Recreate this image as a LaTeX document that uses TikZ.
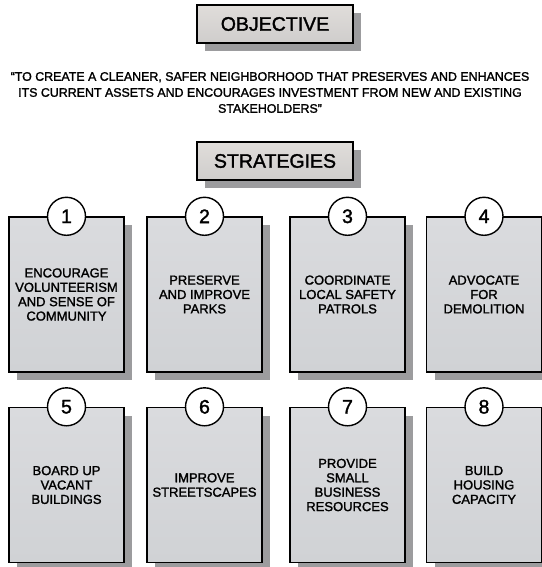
\documentclass[tikz,border=0pt]{standalone}
\usepackage{fontspec}
\setmainfont{Liberation Sans}[FakeBold=1.6]
\usetikzlibrary{shadows}

\definecolor{shadowgray}{HTML}{9C9C9E}
\definecolor{cardtop}{HTML}{DADBDE}
\definecolor{cardbot}{HTML}{D0D2D5}
\definecolor{headtop}{HTML}{E0DDDA}
\definecolor{headbot}{HTML}{CFCDCC}

\tikzset{
  headbox/.style={draw=black, line width=1.4pt, top color=headtop, bottom color=headbot,
    minimum width=156pt, minimum height=38pt, inner sep=0pt,
    font=\fontsize{19.5}{22}\selectfont,
    drop shadow={shadow xshift=8pt, shadow yshift=-8pt, fill=shadowgray, opacity=1}},
  strategybox/.style={draw=black, line width=1.4pt, top color=cardtop, bottom color=cardbot,
    minimum width=115pt, minimum height=155pt, inner sep=0pt, align=center,
    font=\fontsize{13}{14.4}\selectfont,
    drop shadow={shadow xshift=8pt, shadow yshift=-8pt, fill=shadowgray, opacity=1}},
  numcircle/.style={circle, draw=black, line width=1.4pt, fill=white,
    minimum size=38pt, inner sep=0pt, font=\fontsize{19.5}{22}\selectfont}
}

\begin{document}
\begin{tikzpicture}[x=1pt,y=-1pt]

\useasboundingbox (0,0) rectangle (541,567);

% headings
\node[headbox] (objective) at (275,24) {OBJECTIVE};
\node[align=center, font=\fontsize{12.4}{16}\selectfont] (quote) at (270,92.5)
  {“TO CREATE A CLEANER, SAFER NEIGHBORHOOD THAT PRESERVES AND ENHANCES\\
   ITS CURRENT ASSETS AND ENCOURAGES INVESTMENT FROM NEW AND EXISTING\\
   STAKEHOLDERS”};
\node[headbox] (strategies) at (275,161) {STRATEGIES};

% strategy cards
\foreach \n/\x/\y/\txt in {
  1/66.5/294.5/{ENCOURAGE\\VOLUNTEERISM\\AND SENSE OF\\COMMUNITY},
  2/204.5/294.5/{PRESERVE\\AND IMPROVE\\PARKS},
  3/347.5/294.5/{COORDINATE\\LOCAL SAFETY\\PATROLS},
  4/484/294.5/{ADVOCATE\\FOR\\DEMOLITION},
  5/66.5/485/{BOARD UP\\VACANT\\BUILDINGS},
  6/204.5/485/{IMPROVE\\STREETSCAPES},
  7/347.5/485/{PROVIDE\\SMALL\\BUSINESS\\RESOURCES},
  8/484/485/{BUILD\\HOUSING\\CAPACITY}}
{
  \node[strategybox] (card\n) at (\x,\y) {\txt};
  \node[numcircle] (num\n) at (card\n.north) {\n};
}

\end{tikzpicture}
\end{document}
